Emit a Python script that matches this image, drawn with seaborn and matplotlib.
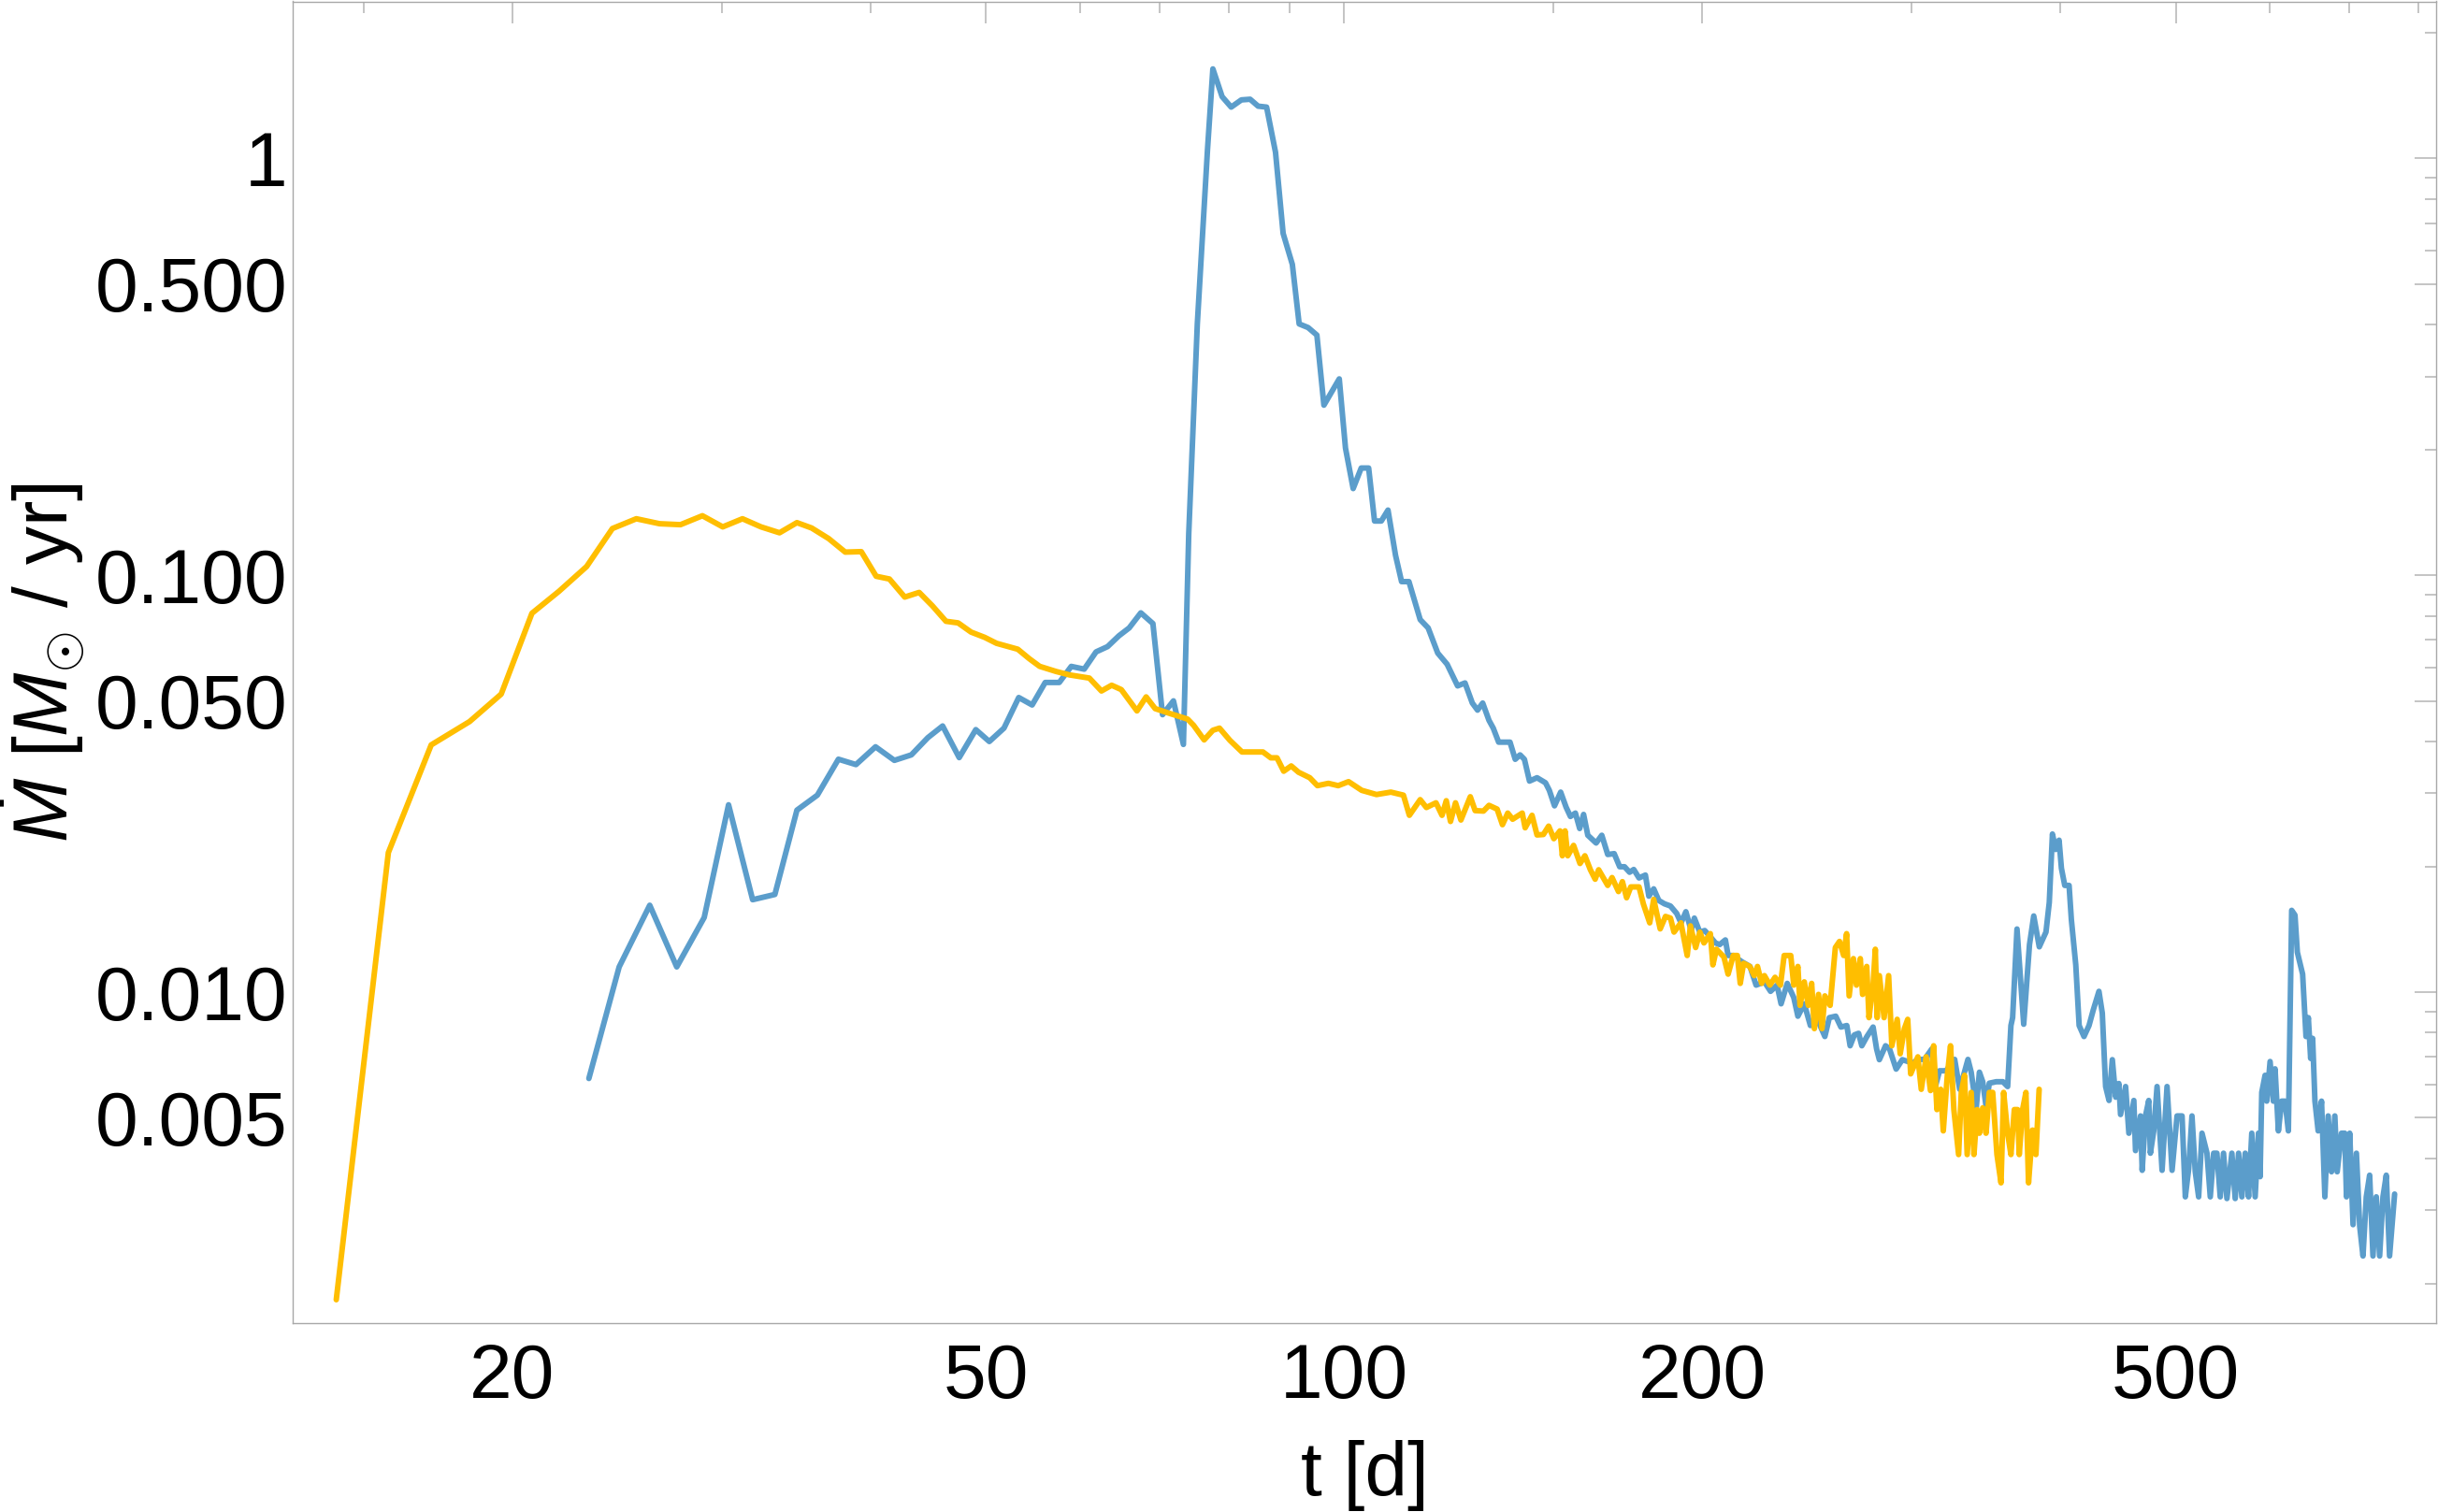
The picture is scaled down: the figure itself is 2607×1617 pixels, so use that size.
import matplotlib
matplotlib.use("Agg")
import matplotlib.pyplot as plt
import numpy as np
import pandas as pd
import seaborn as sns
from matplotlib.ticker import FixedLocator, FixedFormatter, NullFormatter

# ---------------- data ----------------
t_model1 = [
    23.2, 24.6, 26.1, 27.5, 29.0, 30.4, 31.85, 33.25, 34.7, 36.1,
    37.6, 38.9, 40.4, 41.9, 43.3, 44.7, 46.0, 47.5, 49.05, 50.35,
    51.8, 53.3, 54.7, 56.1, 57.65, 59.0, 60.5, 61.9, 63.3, 64.7,
    66.0, 67.5, 69.1, 70.4, 71.9, 73.3, 74.06, 75.3, 76.8, 77.6,
    79.0, 80.4, 82.0, 83.4, 84.7, 86.1, 87.6, 88.9, 90.5, 91.7,
    93.3, 94.9, 96.2, 99.1, 100.3, 101.8, 103.4, 104.9, 106.1, 107.5,
    108.9, 110.5, 111.8, 113.4, 115.9, 117.7, 119.9, 122.1, 124.6, 126.4,
    128.2, 129.5, 130.8, 132.4, 133.5, 134.9, 137.9, 139.3, 140.6, 141.8,
    143.2, 145.3, 147.7, 148.8, 150.3, 152.1, 153.7, 155.0, 156.5, 157.8,
    159.0, 160.3, 162.9, 164.7, 166.6, 168.7, 170.5, 172.1, 173.8, 175.2,
    177.0, 179.2, 180.4, 182.1, 183.9, 185.9, 188.1, 190.4, 192.0, 193.8,
    195.8, 197.0, 199.1, 201.0, 203.2, 205.2, 206.9, 209.2, 210.3, 212.4,
    215.9, 219.4, 222.0, 225.6, 228.3, 231.2, 233.0, 235.8, 238.8, 240.7,
    243.7, 246.6, 249.6, 253.6, 255.8, 259.0, 261.6, 264.6, 266.3, 268.5,
    270.7, 272.4, 275.1, 278.4, 280.3, 281.8, 285.2, 287.4, 291.1, 294.6,
    300.6, 303.6, 307.5, 311.9, 313.6, 316.6, 320.6, 326.0, 329.2, 334.5,
    336.6, 339.9, 342.0, 344.2, 346.4, 348.6, 353.3, 357.9, 361.2, 363.5,
    364.7, 367.8, 372.6, 376.8, 379.9, 384.0, 389.0, 391.5, 393.9, 396.4,
    399.0, 400.8, 403.4, 406.8, 408.6, 412.1, 414.8, 418.7, 422.8, 426.3,
    431.0, 433.8, 436.6, 439.5, 442.3, 445.2, 447.9, 449.4, 453.8, 456.7,
    461.1, 462.6, 467.1, 468.6, 471.6, 474.6, 476.1, 479.2, 482.3, 487.0,
    491.7, 496.5, 501.3, 506.2, 509.4, 512.7, 516.0, 519.3, 522.7, 526.1,
    531.2, 534.6, 538.1, 541.5, 545.0, 548.5, 552.1, 557.4, 561.0, 564.7,
    568.3, 572.0, 575.7, 579.3, 583.1, 586.8, 588.7, 590.6, 594.4, 596.3,
    600.2, 604.0, 606.0, 609.9, 613.8, 617.8, 621.8, 625.8, 629.8, 632.7,
    639.2, 642.1, 643.4, 646.3, 649.2, 651.7, 654.6, 658.7, 663.0, 667.3,
    671.6, 675.9, 680.3, 683.4, 689.1, 693.5, 695.8, 700.2, 704.7, 709.3,
    713.8, 718.4, 723.0, 727.7, 732.4, 737.1, 741.9, 746.7, 751.5, 756.3,
    763.7,
]
mdot_model1 = [
    0.00621, 0.0115, 0.01617, 0.0115, 0.01511, 0.02816, 0.01667, 0.01716, 0.02734, 0.0297,
    0.03622, 0.03516, 0.03879, 0.03599, 0.0371, 0.04079, 0.04352, 0.03654, 0.04265, 0.03994,
    0.04301, 0.05093, 0.04887, 0.05534, 0.05534, 0.06048, 0.05957, 0.06552, 0.06747, 0.07161,
    0.0748, 0.0813, 0.07662, 0.04632, 0.0500, 0.0393, 0.1258, 0.401, 1.051, 1.64,
    1.407, 1.328, 1.382, 1.387, 1.335, 1.328, 1.035, 0.661, 0.557, 0.401,
    0.393, 0.377, 0.256, 0.296, 0.202, 0.1615, 0.1809, 0.1809, 0.135, 0.135,
    0.1434, 0.1117, 0.0966, 0.0966, 0.0783, 0.0748, 0.0651, 0.0612, 0.0543, 0.0552,
    0.0494, 0.0475, 0.0494, 0.0449, 0.0430, 0.0398, 0.0398, 0.0362, 0.0371, 0.0362,
    0.0321, 0.0327, 0.0318, 0.0305, 0.0280, 0.0302, 0.0278, 0.0264, 0.0269, 0.0247,
    0.0267, 0.0238, 0.0228, 0.0238, 0.0214, 0.0215, 0.0200, 0.0200, 0.0194, 0.0197,
    0.0188, 0.0191, 0.0170, 0.0177, 0.0166, 0.0163, 0.0161, 0.01545, 0.01467, 0.0156,
    0.01406, 0.01506, 0.01394, 0.01406, 0.01358, 0.01313, 0.01301, 0.01335, 0.01225, 0.01225,
    0.01184, 0.01153, 0.0104, 0.01059, 0.01005, 0.0104, 0.00938, 0.0105, 0.00971, 0.00876,
    0.00938, 0.00832, 0.00869, 0.00783, 0.00869, 0.00876, 0.00825, 0.00832, 0.00744, 0.0079,
    0.00797, 0.00744, 0.00783, 0.00825, 0.00731, 0.00689, 0.00744, 0.00731, 0.00654, 0.00689,
    0.00676, 0.0069, 0.0069, 0.00731, 0.00585, 0.00648, 0.00648, 0.0069, 0.00585, 0.0069,
    0.00643, 0.00528, 0.00643, 0.0061, 0.00533, 0.00605, 0.0061, 0.0061, 0.00594, 0.00832,
    0.00869, 0.01418, 0.00838, 0.01301, 0.01524, 0.01285, 0.01394, 0.01642, 0.02396, 0.0220,
    0.02316, 0.01984, 0.01804, 0.01804, 0.01493, 0.01163, 0.00832, 0.00783, 0.00832, 0.00907,
    0.01005, 0.00891, 0.00594, 0.0055, 0.00689, 0.0056, 0.00604, 0.00509, 0.00594, 0.00459,
    0.0055, 0.00417, 0.00505, 0.00374, 0.00505, 0.0055, 0.00411, 0.00465, 0.00594, 0.00374,
    0.00594, 0.00374, 0.00505, 0.00505, 0.00323, 0.00377, 0.00505, 0.00371, 0.00323, 0.00459,
    0.00411, 0.00323, 0.00411, 0.00411, 0.00323, 0.00411, 0.0032, 0.00411, 0.0032, 0.00411,
    0.00323, 0.00411, 0.00323, 0.00459, 0.00323, 0.00459, 0.00361, 0.00575, 0.00632, 0.00548,
    0.00682, 0.00548, 0.00655, 0.00465, 0.00548, 0.00548, 0.00465, 0.01572, 0.01531, 0.01247,
    0.01105, 0.00869, 0.00783, 0.00869, 0.00694, 0.00775, 0.00548, 0.00465, 0.00548, 0.00323,
    0.00505, 0.00371, 0.00505, 0.00371, 0.00459, 0.00459, 0.00323, 0.00459, 0.00277, 0.00411,
    0.00275, 0.00233, 0.00323, 0.00364, 0.00233, 0.00323, 0.00233, 0.00323, 0.00364, 0.00233,
    0.00328,
]

t_model2 = [
    14.23, 15.74, 17.1, 18.42, 19.58, 20.78, 21.9, 23.1, 24.28, 25.43,
    26.6, 27.7, 28.9, 30.06, 31.23, 32.37, 33.55, 34.7, 35.7, 36.9,
    38.1, 39.3, 40.45, 41.5, 42.75, 43.96, 45.1, 46.3, 47.4, 48.6,
    49.9, 51.06, 53.2, 54.4, 55.5, 57.3, 58.8, 61.1, 62.55, 63.8,
    65.0, 67.0, 68.2, 69.4, 71.45, 73.9, 74.75, 76.3, 77.6, 78.6,
    80.2, 82.1, 85.5, 86.8, 87.85, 89.0, 90.3, 91.6, 93.6, 95.0,
    97.04, 98.9, 100.9, 103.5, 106.5, 109.5, 112.2, 113.5, 115.9, 117.3,
    119.5, 120.9, 121.9, 122.9, 124.1, 125.4, 127.7, 128.9, 131.0, 132.4,
    134.5, 135.9, 137.3, 138.6, 141.2, 142.0, 143.9, 145.3, 147.1, 148.6,
    150.1, 151.9, 152.6, 153.4, 154.2, 155.95, 157.9, 159.4, 161.1, 162.6,
    163.7, 166.6, 168.0, 170.1, 171.4, 172.8, 174.2, 177.0, 178.5, 180.7,
    182.1, 184.4, 186.3, 188.1, 189.4, 191.95, 194.3, 195.5, 197.5, 199.1,
    200.7, 203.2, 204.2, 205.6, 208.6, 210.3, 212.4, 214.1, 215.3, 216.7,
    219.3, 221.2, 222.6, 224.4, 225.6, 228.0, 230.3, 232.7, 234.4, 237.4,
    238.8, 240.7, 241.7, 243.7, 245.6, 247.2, 248.5, 250.5, 252.2, 253.6,
    256.2, 258.8, 260.9, 263.0, 264.5, 265.8, 268.0, 269.6, 271.6, 272.8,
    275.0, 276.2, 278.4, 279.6, 280.6, 281.8, 284.4, 286.9, 288.7, 291.7,
    293.4, 295.8, 297.7, 299.4, 303.6, 305.6, 308.5, 311.1, 313.0, 315.0,
    317.3, 318.9, 321.4, 323.4, 325.5, 328.5, 330.2, 332.3, 334.0, 336.6,
    338.4, 340.5, 342.0, 344.2, 346.4, 348.6, 350.9, 353.8, 356.6, 358.4,
    361.2, 363.5, 365.9, 368.2, 369.4, 371.8, 374.2, 376.1, 379.0, 381.5,
    383.9,
]
mdot_model2 = [
    0.00183, 0.02163, 0.0392, 0.0446, 0.0519, 0.0811, 0.0916, 0.105, 0.1295, 0.1367,
    0.133, 0.1323, 0.139, 0.1307, 0.1367, 0.1307, 0.1265, 0.1338, 0.1299, 0.1225,
    0.1137, 0.114, 0.0995, 0.098, 0.0887, 0.091, 0.0845, 0.0776, 0.0769, 0.0731,
    0.071, 0.0687, 0.0665, 0.0631, 0.0605, 0.0588, 0.0577, 0.0567, 0.0528, 0.0545,
    0.0532, 0.0473, 0.0511, 0.0479, 0.0466, 0.0452, 0.0437, 0.0403, 0.0425, 0.0430,
    0.0402, 0.0377, 0.0377, 0.0365, 0.0365, 0.0339, 0.0349, 0.0337, 0.0327, 0.0313,
    0.0317, 0.0313, 0.0320, 0.0305, 0.0298, 0.0302, 0.0297, 0.02657, 0.02897, 0.02774,
    0.02847, 0.02657, 0.0288, 0.02568, 0.02847, 0.02589, 0.02944, 0.02727, 0.0272, 0.02807,
    0.0275, 0.02523, 0.0269, 0.0260, 0.0269, 0.0248, 0.02657, 0.02384, 0.0239, 0.02503,
    0.02335, 0.02438, 0.02125, 0.02438, 0.02125, 0.0225, 0.02036, 0.02125, 0.01967, 0.01867,
    0.01967, 0.01804, 0.01884, 0.01744, 0.01842, 0.01685, 0.01789, 0.01789, 0.01628, 0.01467,
    0.0167, 0.01419, 0.0152, 0.01506, 0.01394, 0.01467, 0.01225, 0.01443, 0.0128, 0.01394,
    0.01313, 0.01382, 0.01163, 0.01268, 0.01215, 0.01105, 0.01225, 0.01225, 0.0105, 0.01173,
    0.01153, 0.01096, 0.01153, 0.0105, 0.01096, 0.0104, 0.01086, 0.0104, 0.01225, 0.01225,
    0.0104, 0.01153, 0.0093, 0.01059, 0.0093, 0.0105, 0.00818, 0.00988, 0.00818, 0.0098,
    0.0093, 0.0128, 0.01324, 0.01225, 0.01382, 0.0098, 0.01204, 0.0104, 0.01204, 0.00988,
    0.01153, 0.00869, 0.0104, 0.01268, 0.00869, 0.01096, 0.00869, 0.01096, 0.00744, 0.00861,
    0.00712, 0.00818, 0.00861, 0.00637, 0.0070, 0.00585, 0.0070, 0.00581, 0.00744, 0.00523,
    0.00585, 0.00465, 0.00632, 0.00744, 0.00523, 0.00408, 0.00575, 0.00632, 0.00408, 0.00575,
    0.00408, 0.00523, 0.00459, 0.00528, 0.00459, 0.00575, 0.00575, 0.00408, 0.00349, 0.00575,
    0.00459, 0.00408, 0.00523, 0.00523, 0.00408, 0.00523, 0.00575, 0.00349, 0.00467, 0.00408,
    0.00585,
]

series_names = ["model 1", "model 2"]
series_colors = ["#5b9dcb", "#ffbe00"]

x_major = [20, 50, 100, 200, 500]
x_major_labels = ["20", "50", "100", "200", "500"]
x_minor = [15, 30, 40, 60, 70, 80, 90, 150, 300, 400, 600, 700, 800]
y_major = [0.005, 0.01, 0.05, 0.1, 0.5, 1]
y_major_labels = ["0.005", "0.010", "0.050", "0.100", "0.500", "1"]
y_minor = [0.002, 0.003, 0.004, 0.006, 0.007, 0.008, 0.009,
           0.02, 0.03, 0.04, 0.06, 0.07, 0.08, 0.09,
           0.2, 0.3, 0.4, 0.6, 0.7, 0.8, 0.9, 2]

x_label = "t [d]"
y_label = r"$\dot{M}$ [$M_{\odot}$ / yr]"

assert len(t_model1) == len(mdot_model1)
assert len(t_model2) == len(mdot_model2)

# ---------------- style ----------------
sns.set_style("white")
plt.rcParams["font.family"] = ["Liberation Sans", "DejaVu Sans"]
plt.rcParams["mathtext.fontset"] = "custom"
plt.rcParams["mathtext.rm"] = "Liberation Sans"
plt.rcParams["mathtext.it"] = "Liberation Sans:italic"
plt.rcParams["mathtext.bf"] = "Liberation Sans:bold"
plt.rcParams["text.color"] = "black"
plt.rcParams["axes.labelcolor"] = "black"

df = pd.concat([
    pd.DataFrame({"t": t_model1, "mdot": mdot_model1, "series": series_names[0]}),
    pd.DataFrame({"t": t_model2, "mdot": mdot_model2, "series": series_names[1]}),
], ignore_index=True)

W, H = 2607, 1617
fig = plt.figure(figsize=(W / 100, H / 100), dpi=100)
ax_left, ax_right, ax_top, ax_bottom = 313, 2605, 1.5, 1415
ax = fig.add_axes([ax_left / W, (H - ax_bottom) / H,
                   (ax_right - ax_left) / W, (ax_bottom - ax_top) / H])
ax.set_xscale("log")
ax.set_yscale("log")

sns.lineplot(data=df, x="t", y="mdot", hue="series", hue_order=series_names,
             palette=dict(zip(series_names, series_colors)), sort=False,
             estimator=None, linewidth=4.3, legend=False, ax=ax)

ax.set_xlim(13.08, 827.6)
ax.set_ylim(0.001608, 2.381)

ax.xaxis.set_major_locator(FixedLocator(x_major))
ax.xaxis.set_major_formatter(FixedFormatter(x_major_labels))
ax.xaxis.set_minor_locator(FixedLocator(x_minor))
ax.xaxis.set_minor_formatter(NullFormatter())
ax.yaxis.set_major_locator(FixedLocator(y_major))
ax.yaxis.set_major_formatter(FixedFormatter(y_major_labels))
ax.yaxis.set_minor_locator(FixedLocator(y_minor))
ax.yaxis.set_minor_formatter(NullFormatter())

tick_grey = "#b4b4b4"
ax.tick_params(which="both", direction="in", top=True, right=True,
               color=tick_grey, width=1.1, labelcolor="black", labelsize=59)
ax.tick_params(which="major", length=16.5)
ax.tick_params(which="minor", length=8.5)
ax.tick_params(axis="x", which="major", pad=15)
ax.tick_params(axis="y", which="major", pad=4)

for sp in ax.spines.values():
    sp.set_color("#a8a8a8")
    sp.set_linewidth(1.0)
    sp.set_visible(True)

ax.set_xlabel(x_label, fontsize=59, color="black")
ax.set_ylabel(y_label, fontsize=59, color="black")
ax.xaxis.set_label_coords(0.5, -0.0884)
ax.yaxis.set_label_coords(-0.096, 0.5)
ax.grid(False)

fig.savefig("out.png", dpi=100, facecolor="white")
